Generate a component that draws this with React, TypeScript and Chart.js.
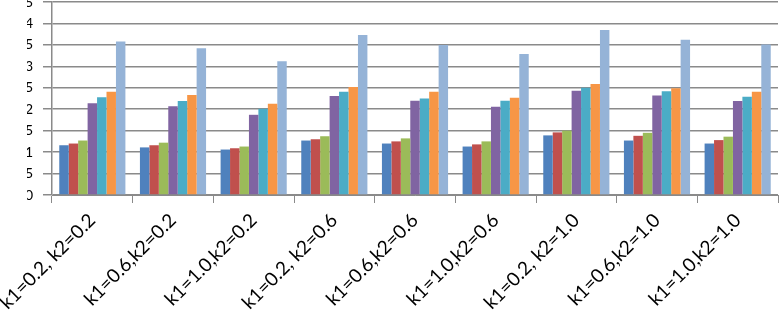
import React, { useEffect, useRef } from "react";
import { Chart, registerables } from "chart.js";

Chart.register(...registerables);

const categories = [
  "k1=0.2, k2=0.2",
  "k1=0.6,k2=0.2",
  "k1=1.0,k2=0.2",
  "k1=0.2, k2=0.6",
  "k1=0.6,k2=0.6",
  "k1=1.0,k2=0.6",
  "k1=0.2, k2=1.0",
  "k1=0.6,k2=1.0",
  "k1=1.0,k2=1.0",
];

const series1 = [1.16, 1.11, 1.06, 1.27, 1.2, 1.13, 1.39, 1.27, 1.2];
const series2 = [1.2, 1.16, 1.09, 1.3, 1.25, 1.18, 1.46, 1.38, 1.28];
const series3 = [1.27, 1.22, 1.13, 1.37, 1.32, 1.25, 1.5, 1.45, 1.36];
const series4 = [2.14, 2.07, 1.87, 2.31, 2.2, 2.06, 2.43, 2.32, 2.19];
const series5 = [2.28, 2.19, 2.01, 2.41, 2.25, 2.2, 2.5, 2.42, 2.29];
const series6 = [2.41, 2.33, 2.13, 2.52, 2.41, 2.27, 2.59, 2.49, 2.41];
const series7 = [3.58, 3.42, 3.12, 3.73, 3.5, 3.29, 3.85, 3.62, 3.51];

const seriesList = [series1, series2, series3, series4, series5, series6, series7];
const colors = ["#4F81BD", "#C0504D", "#9BBB59", "#8064A2", "#4BACC6", "#F79646", "#95B3D7"];

const yMax = 4.5;
const yStep = 0.5;

const clipPlugin = {
  id: "leftClip",
  afterDraw(chart: any) {
    const ctx = chart.ctx;
    ctx.save();
    ctx.fillStyle = "#ffffff";
    ctx.fillRect(0, 0, 27, 205);
    ctx.restore();
  },
};

export default function App() {
  const ref = useRef<HTMLCanvasElement | null>(null);
  useEffect(() => {
    document.body.style.margin = "0";
    const canvas = ref.current;
    if (!canvas) return;
    const chart = new Chart(canvas, {
      type: "bar",
      data: {
        labels: categories,
        datasets: seriesList.map((d, i) => ({
          label: "S" + (i + 1),
          data: d,
          backgroundColor: colors[i],
          borderWidth: 0,
          categoryPercentage: 0.82,
          barPercentage: 1,
        })),
      },
      options: {
        responsive: false,
        animation: false,
        devicePixelRatio: 1,
        layout: { autoPadding: false, padding: { top: 2, right: 1, left: 0, bottom: 0 } },
        plugins: { legend: { display: false }, tooltip: { enabled: false } },
        scales: {
          x: {
            grid: {
              offset: true,
              drawOnChartArea: false,
              tickLength: 8,
              color: "#8a8a8a",
              lineWidth: 1,
            },
            border: { display: true, color: "#8a8a8a", width: 1 },
            ticks: {
              minRotation: 45,
              maxRotation: 45,
              autoSkip: false,
              padding: 6,
              color: "#000",
              font: { family: "Lato", size: 19 },
            },
            afterFit(scale: any) {
              scale.height = 115;
              scale.paddingLeft = 0;
              scale.paddingRight = 0;
            },
          },
          y: {
            min: 0,
            max: yMax,
            ticks: {
              stepSize: yStep,
              autoSkip: false,
              color: "#000",
              padding: 10,
              font: { family: "Lato", size: 14 },
              callback: (v: any) => String(v),
            },
            grid: { color: "#8a8a8a", lineWidth: 1.5, tickLength: 9 },
            border: { display: true, color: "#8a8a8a", width: 1.5 },
            afterFit(scale: any) {
              scale.width = 52;
              scale.paddingTop = 0;
              scale.paddingBottom = 0;
            },
          },
        },
      },
      plugins: [clipPlugin],
    });
    return () => chart.destroy();
  }, []);
  return <canvas ref={ref} width={779} height={310} style={{ display: "block", width: 779, height: 310 }} />;
}
